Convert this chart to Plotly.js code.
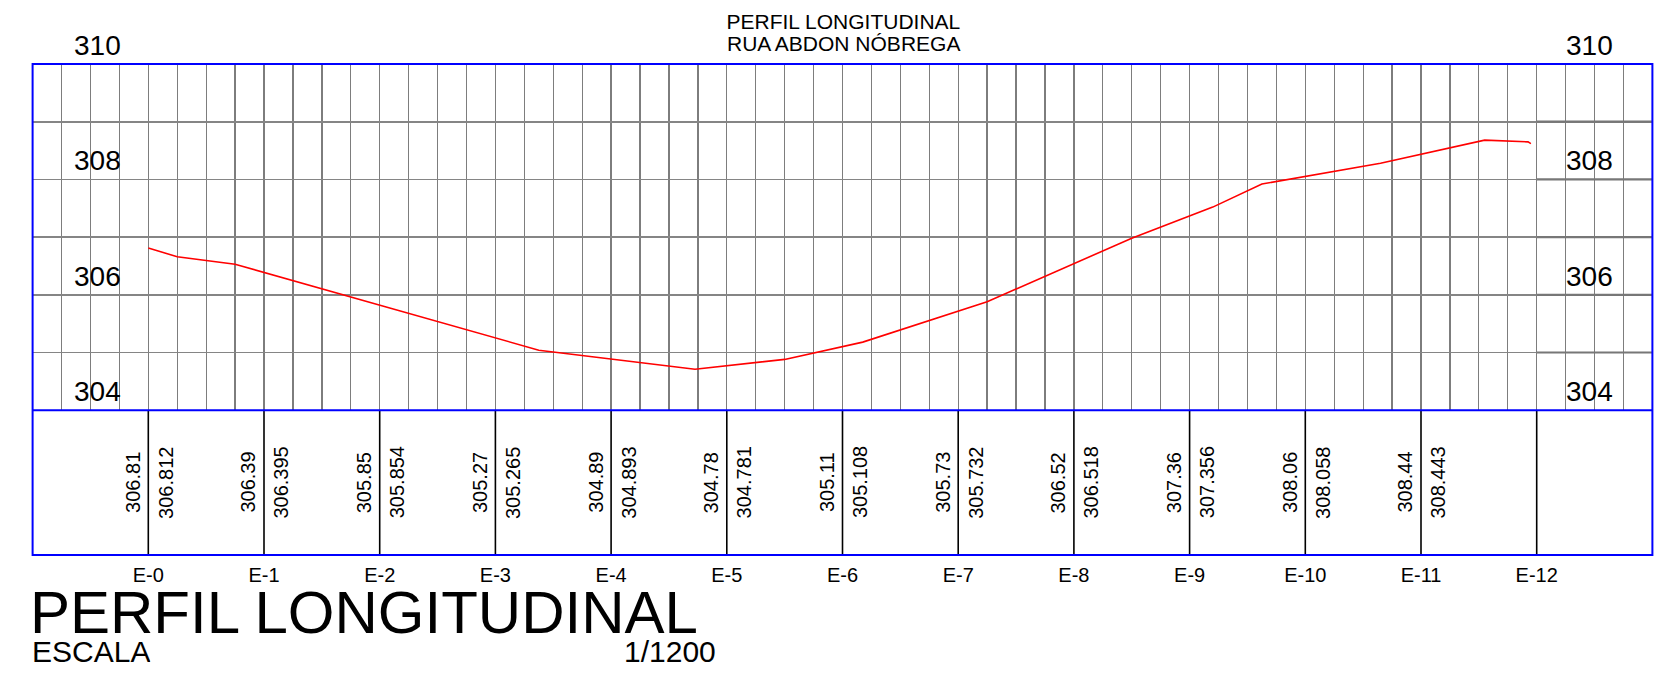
<!DOCTYPE html>
<html>
<head>
<meta charset="utf-8">
<script src="https://cdn.plot.ly/plotly-3.0.1.min.js"></script>
<style>
html,body{margin:0;padding:0;background:#ffffff;}
#chart{width:1655px;height:674px;}
</style>
</head>
<body>
<div id="chart"></div>
<script>
// ---------------- data ----------------
const stations = ['E-0','E-1','E-2','E-3','E-4','E-5','E-6','E-7','E-8','E-9','E-10','E-11','E-12'];
const stationDist = [0,20,40,60,80,100,120,140,160,180,200,220,240];
const cotaTerreno = [306.81,306.39,305.85,305.27,304.89,304.78,305.11,305.73,306.52,307.36,308.06,308.44];
const cotaProjeto = [306.812,306.395,305.854,305.265,304.893,304.781,305.108,305.732,306.518,307.356,308.058,308.443];
const profileDist = [0,5,15,67.5,94.5,110,123.5,145,170,184,192.5,213,231,238.5,239];
const profileElev = [306.81,306.66,306.53,305.04,304.71,304.88,305.18,305.88,306.98,307.52,307.92,308.28,308.68,308.65,308.62];
const elevLabels = [304,306,308,310];
const titleLine1 = 'PERFIL LONGITUDINAL';
const titleLine2 = 'RUA ABDON NÓBREGA';
const bigTitle = 'PERFIL LONGITUDINAL';
const scaleLabel = 'ESCALA';
const scaleValue = '1/1200';

// ---------------- geometry ----------------
const W = 1655, H = 674;
const px = v => v / W;
const py = v => 1 - v / H;
const FONT = 'Liberation Sans, Arial, Helvetica, sans-serif';
const gridLeft = 32.6, gridRight = 1652.4, gridTop = 64, gridBottom = 410.2, bandBottom = 555;
const xRange = [-20, 260], yRange = [304, 310];

// ---------------- traces ----------------
const sx = [], sy = [];
stationDist.forEach(d => { sx.push(d, d, null); sy.push(0, 1, null); });

const traces = [
  {type:'scatter', mode:'lines', x:sx, y:sy, xaxis:'x2', yaxis:'y2',
   line:{color:'#000000', width:1.6}, hoverinfo:'skip', showlegend:false},
  {type:'scatter', mode:'lines', x:profileDist, y:profileElev, xaxis:'x', yaxis:'y',
   line:{color:'#ff0000', width:1.6}, name:'Terreno', showlegend:false}
];

// ---------------- annotations ----------------
const annotations = [];
annotations.push({text:titleLine2, xref:'paper', yref:'paper', x:px(843.4), y:py(43.5),
  xanchor:'center', yanchor:'middle', showarrow:false, borderpad:0,
  font:{family:FONT, size:21, color:'#000'}});

elevLabels.forEach(v => {
  annotations.push({text:String(v), xref:'paper', yref:'y', x:px(72.8), y:v,
    xanchor:'left', yanchor:'bottom', yshift:2, showarrow:false, borderpad:0,
    font:{family:FONT, size:28, color:'#000'}});
  annotations.push({text:String(v), xref:'paper', yref:'y', x:px(1564.5), y:v,
    xanchor:'left', yanchor:'bottom', yshift:2, showarrow:false, borderpad:0,
    font:{family:FONT, size:28, color:'#000'}});
});

cotaTerreno.forEach((v, i) => {
  annotations.push({text:String(v), xref:'x2', yref:'y2', x:stationDist[i], y:0.5,
    textangle:-90, xanchor:'right', yanchor:'middle', xshift:-4, showarrow:false, borderpad:0,
    font:{family:FONT, size:20, color:'#000'}});
});
cotaProjeto.forEach((v, i) => {
  annotations.push({text:String(v), xref:'x2', yref:'y2', x:stationDist[i], y:0.5,
    textangle:-90, xanchor:'left', yanchor:'middle', xshift:5, showarrow:false, borderpad:0,
    font:{family:FONT, size:20, color:'#000'}});
});

annotations.push({text:bigTitle, xref:'paper', yref:'paper', x:px(28.8), y:py(612),
  xanchor:'left', yanchor:'middle', height:48, valign:'middle', showarrow:false, borderpad:0,
  font:{family:FONT, size:60, color:'#000'}});
annotations.push({text:scaleLabel, xref:'paper', yref:'paper', x:px(31), y:py(650.5),
  xanchor:'left', yanchor:'middle', height:26, valign:'middle', showarrow:false, borderpad:0,
  font:{family:FONT, size:30, color:'#000'}});
annotations.push({text:scaleValue, xref:'paper', yref:'paper', x:px(717), y:py(650.5),
  xanchor:'right', yanchor:'middle', height:26, valign:'middle', showarrow:false, borderpad:0,
  font:{family:FONT, size:30, color:'#000'}});

// ---------------- shapes ----------------
const shapes = [];
const lastStation = stationDist[stationDist.length - 1];
for (let v = yRange[0] + 1; v < yRange[1]; v++) {
  shapes.push({type:'line', xref:'x', yref:'y', x0:lastStation, x1:xRange[1], y0:v, y1:v,
    line:{color:'#777777', width:2.2}});
}
shapes.push({type:'rect', xref:'paper', yref:'paper', x0:px(gridLeft), x1:px(gridRight),
  y0:py(bandBottom), y1:py(gridTop), line:{color:'#0000ff', width:2}});
shapes.push({type:'line', xref:'paper', yref:'paper', x0:px(gridLeft), x1:px(gridRight),
  y0:py(gridBottom), y1:py(gridBottom), line:{color:'#0000ff', width:2}});

// ---------------- layout ----------------
const layout = {
  width:W, height:H,
  margin:{l:0, r:0, t:0, b:0, pad:0},
  paper_bgcolor:'#ffffff', plot_bgcolor:'rgba(0,0,0,0)',
  showlegend:false,
  font:{family:FONT, color:'#000'},
  title:{text:titleLine1, font:{family:FONT, size:21, color:'#000'},
    x:px(843.4), xanchor:'center', xref:'paper', y:py(21.7), yanchor:'middle', yref:'container'},
  xaxis:{domain:[px(gridLeft), px(gridRight)], range:xRange, anchor:'y',
    showgrid:true, tick0:0, dtick:5, gridcolor:'#7d7d7d', gridwidth:1.3,
    zeroline:false, showticklabels:false, ticks:'', showline:false, fixedrange:true},
  yaxis:{domain:[py(gridBottom), py(gridTop)], range:yRange, anchor:'x',
    showgrid:true, tick0:304, dtick:1, gridcolor:'#858585', gridwidth:1.6,
    zeroline:false, showticklabels:false, ticks:'', showline:false, fixedrange:true},
  xaxis2:{domain:[px(gridLeft), px(gridRight)], range:xRange, anchor:'y2',
    showgrid:false, zeroline:false, showline:false, ticks:'',
    tickmode:'array', tickvals:stationDist, ticktext:stations,
    tickfont:{family:FONT, size:20, color:'#000'}, ticklabelstandoff:6, fixedrange:true},
  yaxis2:{domain:[py(bandBottom), py(gridBottom)], range:[0,1], anchor:'x2',
    showgrid:false, zeroline:false, showticklabels:false, ticks:'', showline:false, fixedrange:true},
  shapes:shapes,
  annotations:annotations
};

Plotly.newPlot('chart', traces, layout, {displayModeBar:false, staticPlot:true});
</script>
</body>
</html>
